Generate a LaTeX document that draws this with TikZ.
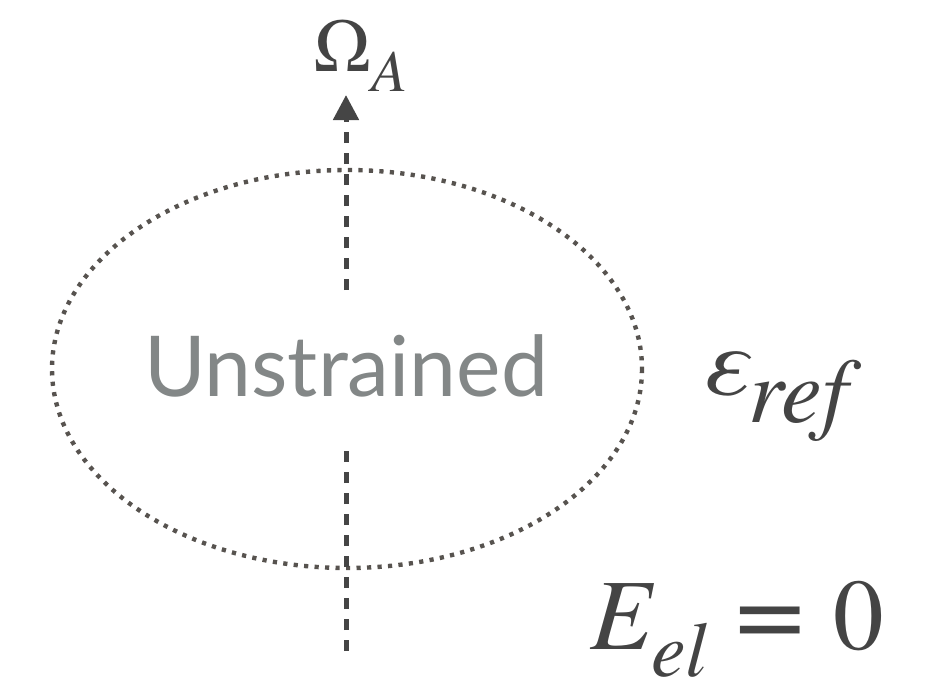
\documentclass[tikz,border=0pt]{standalone}
\usepackage{fontspec}
\usepackage{graphicx}
\newfontfamily\labelfont{Lato}
\newfontfamily\serifmath{texgyretermes}[Extension=.otf, UprightFont=*-regular, ItalicFont=*-italic]
\usetikzlibrary{arrows.meta}
\definecolor{darkline}{HTML}{454545}
\definecolor{dotline}{HTML}{57534F}
\definecolor{softtext}{HTML}{838787}
\definecolor{mathtext}{HTML}{444444}
\tikzset{
  dotring/.style={draw=dotline, line width=4.4pt, dash pattern=on 4.2pt off 6.3pt},
  axisline/.style={draw=darkline, line width=5pt, dash pattern=on 11pt off 10pt},
  mathlabel/.style={text=mathtext, inner sep=0pt, anchor=base west},
}
\newcommand\fsz[1]{\fontsize{#1}{#1}\selectfont}
\begin{document}
\begin{tikzpicture}[x=1pt,y=-1pt]
\useasboundingbox (0,0) rectangle (945,678);
\node[inner sep=0pt, text=softtext, font=\labelfont\fsz{84}] (unstr) at (346,366) {Unstrained};
\draw[dotring] (347,369) ellipse [x radius=295, y radius=199];
\coordinate (bottom) at (346,651);
\coordinate (lowtop) at (346,448);
\coordinate (upstart) at (346,290);
\coordinate (tip) at (346,95);
\draw[axisline] (bottom) -- (lowtop);
\draw[axisline, -{Triangle[width=25pt,length=25pt]}] (upstart) -- (tip);
\node[mathlabel] (omega) at (313,71) {\serifmath\fsz{76}Ω\raisebox{-20pt}{\fsz{59}\itshape A}};
\node[mathlabel] (eps) at (700,395) {\serifmath\itshape\fsz{100}ε\raisebox{-27pt}{\fsz{92}ref}};
\node[mathlabel] (energy) at (590,649) {\serifmath\fsz{101}\textit{E}\hspace{-3pt}\raisebox{-27pt}{\fsz{78}\itshape el}\hspace{28pt}\scalebox{1.22}[1.15]{=}\hspace{28pt}0};
\end{tikzpicture}
\end{document}
